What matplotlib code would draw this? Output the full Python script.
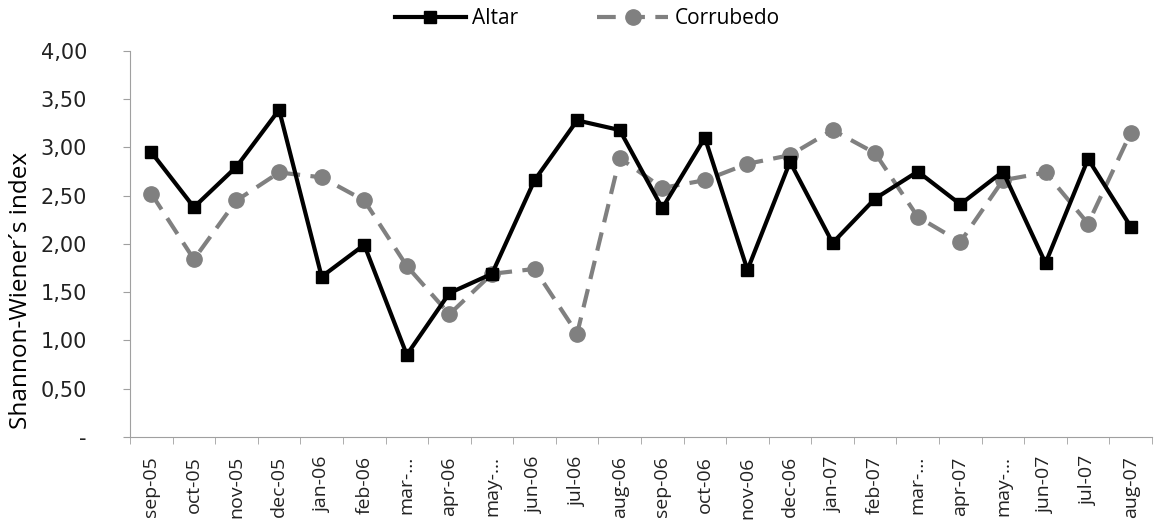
import matplotlib.pyplot as plt
import numpy as np

months = ["sep-05", "oct-05", "nov-05", "dec-05", "jan-06", "feb-06", "mar-...",
          "apr-06", "may-...", "jun-06", "jul-06", "aug-06", "sep-06", "oct-06",
          "nov-06", "dec-06", "jan-07", "feb-07", "mar-...", "apr-07", "may-...",
          "jun-07", "jul-07", "aug-07"]
altar = [2.95, 2.38, 2.80, 3.39, 1.66, 1.99, 0.85, 1.49, 1.69, 2.66, 3.28, 3.18,
         2.37, 3.10, 1.73, 2.85, 2.01, 2.47, 2.75, 2.41, 2.75, 1.80, 2.88, 2.18]
corrubedo = [2.52, 1.84, 2.45, 2.74, 2.69, 2.45, 1.77, 1.27, 1.69, 1.74, 1.07, 2.89,
             2.58, 2.66, 2.83, 2.92, 3.18, 2.94, 2.28, 2.02, 2.66, 2.74, 2.21, 3.15]
yticks = [0, 0.5, 1.0, 1.5, 2.0, 2.5, 3.0, 3.5, 4.0]
ylabels = ["-", "0,50", "1,00", "1,50", "2,00", "2,50", "3,00", "3,50", "4,00"]

fig = plt.figure(figsize=(11.56, 5.2), dpi=100)
ax = fig.add_axes([0.1125, 0.16, 0.884, 0.742])

x = np.arange(len(months))
ax.plot(x, corrubedo, color="#808080", lw=3, ls=(0, (4.5, 2.5)), marker="o",
        ms=11, label="Corrubedo", zorder=2)
ax.plot(x, altar, color="black", lw=3, marker="s", ms=8.5, label="Altar", zorder=3)

ax.set_xlim(-0.5, len(months) - 0.5)
ax.set_ylim(0, 4)
ax.set_yticks(yticks)
ax.set_yticklabels(ylabels, family="DejaVu Sans", fontsize=15, color="#222222")
ax.set_xticks(x)
ax.set_xticklabels(months, rotation=90, family="Open Sans", fontsize=14, color="#222222")
ax.set_xticks(np.arange(len(months) + 1) - 0.5, minor=True)
ax.tick_params(axis="x", which="major", length=0, pad=14)
ax.tick_params(axis="x", which="minor", length=5, color="#a0a0a0", direction="out")
ax.tick_params(axis="y", length=5, color="#a0a0a0", pad=26)
ax.spines["top"].set_visible(False)
ax.spines["right"].set_visible(False)
ax.spines["left"].set_color("#a0a0a0")
ax.spines["bottom"].set_color("#a0a0a0")
ax.set_ylabel("Shannon-Wiener´s index", fontsize=17.5, family="Open Sans")
ax.yaxis.set_label_coords(-0.095, 0.38)

h, l = ax.get_legend_handles_labels()
fig.legend(h[::-1], l[::-1], loc="upper center", bbox_to_anchor=(0.508, 1.02), ncol=2,
           frameon=False, prop={"family": "Open Sans", "size": 15}, handlelength=3.4,
           columnspacing=3.8, handletextpad=0.3)

fig.savefig("out.png", dpi=100)
